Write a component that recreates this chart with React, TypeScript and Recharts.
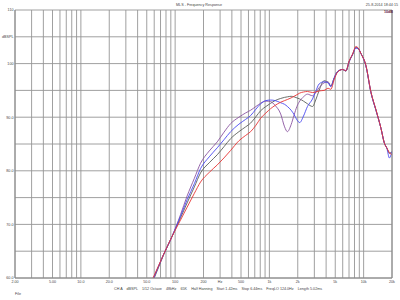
import React from 'react';
import { LineChart, Line, XAxis, YAxis, CartesianGrid } from 'recharts';

const freqs = [52, 60, 75, 93, 114, 134, 160, 186, 230, 280, 330, 388, 475, 560, 632, 720, 807, 920, 1032, 1150, 1318, 1450, 1553, 1700, 1828, 1960, 2099, 2300, 2536, 2867, 3100, 3372, 3800, 4200, 4488, 4870, 5285, 5974, 6487, 7030, 7638, 8280, 8766, 9355, 10570, 11960, 13520, 15290, 16580, 17700, 18750, 20000];

const purple = [57.8, 60.2, 64.3, 67.8, 71.8, 75.3, 78.6, 81.4, 83.7, 85.4, 87.2, 88.8, 90.0, 90.8, 91.3, 92.0, 92.6, 93.0, 92.9, 92.2, 90.6, 88.2, 87.3, 88.6, 90.4, 92.0, 93.0, 93.8, 94.3, 94.0, 94.6, 95.5, 96.4, 96.6, 95.8, 97.3, 98.5, 98.9, 98.6, 100.4, 101.7, 103.0, 102.8, 101.9, 99.6, 94.6, 91.3, 87.9, 85.2, 84.2, 83.3, 83.5];
const blue = [57.8, 60.3, 64.3, 67.8, 71.5, 74.6, 77.6, 80.4, 82.6, 84.3, 85.8, 87.3, 88.7, 89.6, 90.3, 91.5, 92.5, 93.1, 93.2, 93.1, 92.7, 92.4, 92.0, 91.3, 90.5, 89.5, 89.0, 90.2, 92.0, 93.4, 94.8, 96.2, 96.6, 96.4, 95.7, 97.3, 98.5, 98.9, 98.7, 100.4, 101.7, 102.9, 102.8, 101.9, 99.6, 94.6, 91.3, 87.9, 85.2, 84.1, 82.4, 83.6];
const gray = [57.6, 60.0, 64.2, 67.8, 71.2, 74.0, 77.0, 79.6, 81.5, 83.0, 84.5, 86.0, 87.3, 88.2, 88.9, 90.1, 91.2, 92.0, 92.6, 93.1, 93.5, 93.7, 93.8, 93.9, 93.8, 93.6, 93.4, 93.0, 92.5, 92.0, 93.2, 95.0, 96.8, 96.5, 95.8, 97.3, 98.5, 98.9, 98.6, 100.4, 101.7, 103.0, 102.8, 101.9, 99.6, 94.6, 91.3, 87.9, 85.2, 84.2, 83.3, 83.5];
const red = [58.2, 60.5, 64.3, 67.8, 70.8, 73.2, 75.8, 77.9, 79.7, 81.1, 82.4, 83.8, 85.6, 86.6, 87.3, 88.5, 89.8, 90.8, 91.6, 92.2, 92.8, 93.1, 93.3, 93.6, 93.9, 94.2, 94.5, 94.7, 94.8, 94.6, 94.7, 94.9, 95.0, 95.4, 95.2, 97.0, 98.4, 98.9, 98.7, 100.5, 101.8, 103.2, 102.9, 101.9, 99.7, 94.7, 91.4, 87.9, 85.2, 84.2, 83.4, 83.0];

const xTicks = [2, 3, 4, 5, 6, 7, 8, 9, 10, 20, 30, 40, 50, 60, 70, 80, 90, 100, 200, 300, 400, 500, 600, 700, 800, 900, 1000, 2000, 3000, 4000, 5000, 6000, 7000, 8000, 9000, 10000, 20000];
const xLabels: Record<number, string> = { 2: '2.00', 5: '5.00', 10: '10.0', 20: '20.0', 50: '50.0', 100: '100', 200: '200', 300: 'Hz', 500: '500', 1000: '1k', 2000: '2k', 5000: '5k', 10000: '10k', 20000: '20k' };

const yTicks = [60, 65, 70, 75, 80, 85, 90, 95, 100, 105, 110];
const yLabels: Record<number, string> = { 110: '110', 105: 'dBSPL', 100: '100', 90: '90.0', 80: '80.0', 70: '70.0', 60: '60.0' };
const yMinorTicks = Array.from({ length: 51 }, (_, i) => 60 + i);

const title = 'MLS - Frequency Response';
const dateText = '25-8-2014 18:44:15';
const footer = 'CH A    dBSPL    1/12 Octave    48kHz    65K    Half Hanning    Start 1.42ms    Stop 6.44ms    FreqLO 124.0Hz    Length 5.02ms';

const rows = freqs.map((f, i) => ({ f, purple: purple[i], blue: blue[i], gray: gray[i], red: red[i] }));

const FONT = '"Liberation Sans", Arial, sans-serif';
const FS = 3.7;

export default function App() {
  return (
    <div style={{ position: 'absolute', left: 0, top: 0, width: 400, height: 300, background: '#fff' }}>
      <LineChart width={400} height={300} data={rows} margin={{ top: 10, right: 8, bottom: 0, left: 0 }}>
        <CartesianGrid stroke="#959595" strokeWidth={0.9} />
        <XAxis
          dataKey="f"
          type="number"
          scale="log"
          domain={[2, 20000]}
          allowDataOverflow
          ticks={xTicks}
          interval={0}
          height={22}
          tickLine={false}
          tickSize={0}
          tickMargin={2.5}
          axisLine={{ stroke: '#888' }}
          tickFormatter={(v: number) => xLabels[v] ?? ''}
          tick={{ fontSize: FS, fill: '#444', fontFamily: FONT }}
        />
        <YAxis
          type="number"
          domain={[60, 110]}
          allowDataOverflow
          ticks={yTicks}
          interval={0}
          width={15}
          tickLine={false}
          tickSize={0}
          tickMargin={1.5}
          axisLine={{ stroke: '#888' }}
          tickFormatter={(v: number) => yLabels[v] ?? ''}
          tick={{ fontSize: FS, fill: '#444', fontFamily: FONT }}
        />
        <YAxis
          yAxisId="minorL"
          orientation="left"
          mirror
          type="number"
          domain={[60, 110]}
          ticks={yMinorTicks}
          interval={0}
          tickSize={2}
          axisLine={false}
          tickLine={{ stroke: '#888', strokeWidth: 0.8 }}
          tickFormatter={() => ''}
        />
        <YAxis
          yAxisId="minorR"
          orientation="right"
          mirror
          type="number"
          domain={[60, 110]}
          ticks={yMinorTicks}
          interval={0}
          tickSize={2}
          axisLine={{ stroke: '#888' }}
          tickLine={{ stroke: '#888', strokeWidth: 0.8 }}
          tickFormatter={() => ''}
        />
        <Line dataKey="gray" stroke="#5a5f5a" strokeWidth={0.9} dot={false} type="monotone" isAnimationActive={false} />
        <Line dataKey="purple" stroke="#8a55a0" strokeWidth={0.9} dot={false} type="monotone" isAnimationActive={false} />
        <Line dataKey="blue" stroke="#4848f0" strokeWidth={0.9} dot={false} type="monotone" isAnimationActive={false} />
        <Line dataKey="red" stroke="#e83434" strokeWidth={0.9} dot={false} type="monotone" isAnimationActive={false} />
      </LineChart>
      <svg width={400} height={300} style={{ position: 'absolute', left: 0, top: 0, pointerEvents: 'none' }}>
        <text x={199} y={5.5} fontSize={FS} fill="#444" fontFamily={FONT} textAnchor="middle">{title}</text>
        <text x={398} y={5.5} fontSize={FS} fill="#444" fontFamily={FONT} textAnchor="end">{dateText}</text>
        <text x={393} y={13} fontSize={FS} fill="#602040" fontWeight="bold" fontFamily={FONT} textAnchor="end">10dB</text>
        <text x={114} y={289.5} fontSize={FS} fill="#444" fontFamily={FONT} style={{ whiteSpace: 'pre' }}>{footer}</text>
        <text x={15} y={295} fontSize={FS} fill="#444" fontFamily={FONT}>File</text>
      </svg>
    </div>
  );
}
